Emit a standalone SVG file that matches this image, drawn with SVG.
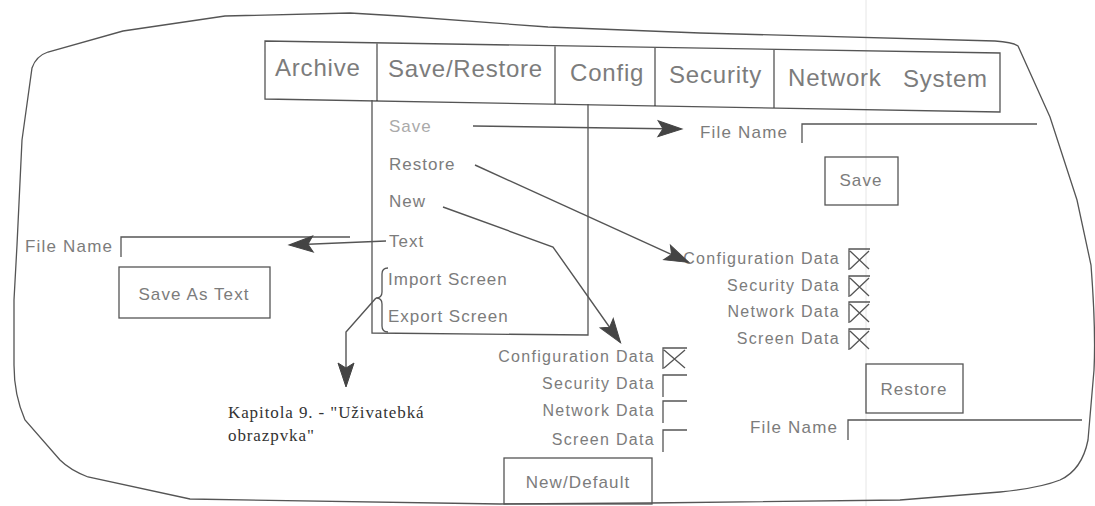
<svg xmlns="http://www.w3.org/2000/svg" width="1095" height="506" viewBox="0 0 1095 506">
<defs>
<style>
.t{font-family:"Liberation Sans",Arial,sans-serif;fill:#7c7c7c;}
.menu{font-size:24px;letter-spacing:0.8px;}
.item{font-size:17px;letter-spacing:1px;}
.lbl{font-size:16px;letter-spacing:1.3px;text-anchor:end;}
.fn{font-size:17px;letter-spacing:1.2px;}
.btn{font-size:17px;letter-spacing:1.1px;text-anchor:middle;}
.ln{fill:none;stroke:#555;stroke-width:1.3;}
.conn{fill:none;stroke:#555;stroke-width:1.4;}
.cap{font-family:"Liberation Serif","Times New Roman",serif;font-size:17px;letter-spacing:0.9px;fill:#333;}
</style>
<marker id="ah" viewBox="0 0 24 16" markerUnits="userSpaceOnUse" markerWidth="24" markerHeight="16" refX="23" refY="8" orient="auto" overflow="visible">
<path d="M0,0 L24,8 L0,16 L5,8 Z" fill="#444" stroke="#444" stroke-width="1"/>
</marker>
</defs>
<rect width="1095" height="506" fill="#fff"/>
<line x1="866" y1="0" x2="866" y2="506" stroke="#e6e6e6" stroke-width="1"/>
<path id="outline" class="ln" d="M32,68 Q36,56 48,52 L123,31 L225,16 L350,13 L400,16 L548,27 L700,33 L995,41 Q1012,42 1018,46 L1050,117 L1077,200 L1091,265 Q1096,330 1094,370 L1088,440 Q1082,470 1060,480 Q1040,488 1000,492 L900,500 L650,503 L500,504 L190,499 L88,477 Q70,470 60,460 L25,420 Q14,395 14,365 L14,300 L17,245 L22,140 Z"/>
<g id="menubar">
<path class="ln" d="M265,41 L1000,53 L1000,112 L265,99 Z M377,43 L377,101 M555,46 L555,104 M655,47 L655,106 M774,49 L774,108"/>
<text class="t menu" x="275" y="76">Archive</text>
<text class="t menu" x="388" y="77">Save/Restore</text>
<text class="t menu" x="570" y="81">Config</text>
<text class="t menu" x="669" y="83">Security</text>
<text class="t menu" x="788" y="86">Network</text>
<text class="t menu" x="903" y="87">System</text>
</g>
<g id="dropdown">
<path class="ln" d="M372,100 L372,333 L588,335 L588,104"/>
<text class="t item" x="389" y="132" style="fill:#aaa">Save</text>
<text class="t item" x="389" y="170">Restore</text>
<text class="t item" x="389" y="207">New</text>
<text class="t item" x="389" y="247">Text</text>
<text class="t item" x="388" y="285">Import Screen</text>
<text class="t item" x="388" y="322">Export Screen</text>
<path class="ln" d="M388,268 Q382,268 382,274 L382,292 Q382,298 376,298 Q382,298 382,304 L382,326 Q382,332 388,332"/>
</g>
<g id="save-panel">
<text class="t fn" x="700" y="138">File Name</text>
<path class="ln" d="M802,143 L802,124 L1037,124"/>
<rect class="ln" x="825" y="157" width="73" height="48"/>
<text class="t btn" x="861" y="186">Save</text>
</g>
<g id="text-panel">
<text class="t fn" x="25" y="252">File Name</text>
<path class="ln" d="M121,257 L121,237 L350,237"/>
<rect class="ln" x="119" y="267" width="151" height="51"/>
<text class="t btn" x="194" y="300">Save As Text</text>
</g>
<g id="restore-panel">
<text class="t lbl" x="840" y="264">Configuration Data</text>
<text class="t lbl" x="840" y="291">Security Data</text>
<text class="t lbl" x="840" y="317">Network Data</text>
<text class="t lbl" x="840" y="344">Screen Data</text>
<path class="ln" d="M849,270 L849,249 L870,249 M850,251 L869,269 M869,251 L850,269"/>
<path class="ln" d="M849,297 L849,276 L870,276 M850,278 L869,296 M869,278 L850,296"/>
<path class="ln" d="M849,323 L849,302 L870,302 M850,304 L869,322 M869,304 L850,322"/>
<path class="ln" d="M849,350 L849,329 L870,329 M850,331 L869,349 M869,331 L850,349"/>
<rect class="ln" x="866" y="364" width="97" height="49"/>
<text class="t btn" x="914" y="395">Restore</text>
<text class="t fn" x="750" y="433">File Name</text>
<path class="ln" d="M848,440 L848,420 L1082,420"/>
</g>
<g id="new-panel">
<text class="t lbl" x="655" y="362">Configuration Data</text>
<text class="t lbl" x="655" y="389">Security Data</text>
<text class="t lbl" x="655" y="416">Network Data</text>
<text class="t lbl" x="655" y="445">Screen Data</text>
<path class="ln" d="M663,369 L663,348 L687,348 M664,350 L685,368 M685,350 L664,368"/>
<path class="ln" d="M663,397 L663,375 L687,375"/>
<path class="ln" d="M663,423 L663,401 L687,401"/>
<path class="ln" d="M663,452 L663,430 L687,430"/>
<rect class="ln" x="504" y="458" width="148" height="46"/>
<text class="t btn" x="578" y="488">New/Default</text>
</g>
<g id="caption">
<text class="cap" x="228" y="418">Kapitola 9. - "Uživatebká</text>
<text class="cap" x="228" y="441">obrazpvka"</text>
</g>
<g id="connectors">
<path class="conn" d="M473,126 L681,129" marker-end="url(#ah)"/>
<path class="conn" d="M475,165 L688,262" marker-end="url(#ah)"/>
<path class="conn" d="M443,207 L553,247 L620,342" marker-end="url(#ah)"/>
<path class="conn" d="M386,241 L290,245" marker-end="url(#ah)"/>
<path class="conn" d="M376,298 L346,332 L346,386" marker-end="url(#ah)"/>
</g>
</svg>
